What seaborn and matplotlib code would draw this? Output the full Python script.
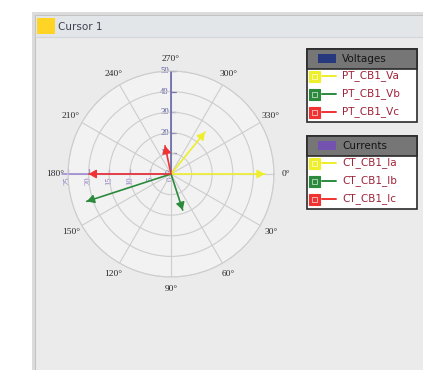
import numpy as np
import pandas as pd
import matplotlib
matplotlib.use("Agg")
import matplotlib.pyplot as plt
from matplotlib.patches import Rectangle, Circle
import seaborn as sns

# Phasor data (angles in degrees, measured clockwise from 0°)
voltage_names = ["PT_CB1_Va", "PT_CB1_Vb", "PT_CB1_Vc"]
current_names = ["CT_CB1_Ia", "CT_CB1_Ib", "CT_CB1_Ic"]
voltage_angles = [0, 162, 180]
voltage_mags = [45.5, 43.0, 40.0]
current_angles = [309, 72, 258]
current_mags = [13.1, 9.2, 7.0]
phase_colors = ["#eeee2c", "#2b8a3c", "#f03232"]

theta_ticks = list(range(0, 360, 30))
voltage_ticks = [0, 10, 20, 30, 40, 50]
current_ticks = [0, 5, 10, 15, 20, 25]
legend_groups = ["Voltages", "Currents"]
group_swatches = ["#27387f", "#7352b0"]

R_MAX = voltage_ticks[-1]
current_scale = R_MAX / current_ticks[-1]

sns.set_theme(style="white")
plt.rcParams["font.family"] = ["DejaVu Sans"]

W, H = 423, 370
fig = plt.figure(figsize=(W / 100, H / 100), dpi=100)
fig.patch.set_facecolor("white")

# Background layer in pixel coordinates
bg = fig.add_axes([0, 0, 1, 1], zorder=0)
bg.set_xlim(0, W)
bg.set_ylim(H, 0)
bg.axis("off")
bg.add_patch(Rectangle((32, 12), W, H, facecolor="#dcdcdc", edgecolor="none"))
bg.add_patch(Rectangle((35, 15), W, H, facecolor="#ebebeb", edgecolor="#c4c4c4", lw=0.8))
bg.add_patch(Rectangle((35.5, 15.5), W, 21.5, facecolor="#e3e6e9", edgecolor="none"))
bg.plot([35.5, W], [37, 37], color="#d2d6da", lw=0.8)
bg.add_patch(Rectangle((37, 18), 17.5, 16, facecolor="#ffd424", edgecolor="none"))
bg.text(58, 26.5, "Cursor 1", fontsize=7.5, color="#3c4250", va="center", ha="left")

# Legend boxes
def draw_legend(top, title, swatch, names):
    left, right = 307, 417
    bg.add_patch(Rectangle((left, top), right - left, 73, facecolor="white",
                           edgecolor="#2a2a2a", lw=1.2, zorder=2))
    bg.add_patch(Rectangle((left, top), right - left, 20, facecolor="#767676",
                           edgecolor="#2a2a2a", lw=1.2, zorder=3))
    bg.add_patch(Rectangle((318, top + 5), 18, 9, facecolor=swatch, edgecolor="none", zorder=4))
    bg.text(342, top + 10, title, fontsize=7.5, color="#151515", va="center", zorder=4)
    for i, (name, col) in enumerate(zip(names, phase_colors)):
        y = top + 27 + 18 * i
        bg.add_patch(Rectangle((309, y - 5.5), 11, 11, facecolor=col, edgecolor=col, lw=0.8, zorder=4))
        bg.add_patch(Rectangle((312, y - 2.5), 5, 5, facecolor="none", edgecolor="white",
                               lw=0.6, alpha=0.7, zorder=5))
        bg.plot([322, 336], [y, y], color=col, lw=1.4, zorder=4)
        bg.text(342, y, name, fontsize=7.5, color="#a0233a", va="center", zorder=4)

draw_legend(49, legend_groups[0], group_swatches[0], voltage_names)
draw_legend(136, legend_groups[1], group_swatches[1], current_names)

rect = [68 / W, 1 - 277 / H, 206 / W, 206 / H]

# Cartesian underlay: plot face, axis ticks and tick labels
ov = fig.add_axes(rect, zorder=1)
ov.set_xlim(-R_MAX, R_MAX)
ov.set_ylim(-R_MAX, R_MAX)
ov.axis("off")
ov.add_patch(Circle((0, 0), R_MAX, facecolor="#f2f2f2", edgecolor="none"))
for v in voltage_ticks[1:]:
    ov.plot([0, 2.6], [v, v], color="#5c5ca6", lw=0.9)
for v in voltage_ticks:
    ov.text(-1.0, v, str(v), fontsize=6.2, family="Liberation Serif", color="#50509a",
            ha="right", va="center")
for c in current_ticks[1:]:
    x = -c * current_scale
    ov.plot([x, x], [0, 2.6], color="#9a82d2", lw=0.9)
for c in current_ticks:
    x = -c * current_scale
    ov.text(x, -1.2, str(c), fontsize=6.2, family="Liberation Serif", color="#8a72c2",
            ha="center", va="top", rotation=90)

# Polar phasor plot
ax = fig.add_axes(rect, projection="polar", zorder=2)
ax.patch.set_alpha(0)
ax.set_theta_zero_location("E")
ax.set_theta_direction(-1)
ax.set_ylim(0, R_MAX)
ax.set_xticks(np.deg2rad(theta_ticks))
ax.set_xticklabels([])
ax.set_yticks(voltage_ticks[1:])
ax.set_yticklabels([])
ax.grid(True, color="#cdcdcd", lw=0.8)
ax.spines["polar"].set_color("#cdcdcd")
ax.spines["polar"].set_linewidth(0.8)

for a in theta_ticks:
    ax.text(np.deg2rad(a), 56, f"{a}°", fontsize=6.8, family="Liberation Serif",
            color="#2a2a2a", ha="center", va="center", clip_on=False)

# Voltage (vertical) and current (horizontal) reference axes
ax.plot([np.deg2rad(270)] * 2, [0, R_MAX], color="#5c5ca6", lw=1.1, zorder=2)
ax.plot([np.pi] * 2, [0, R_MAX * 1.06], color="#9a82d2", lw=1.1, zorder=2, clip_on=False)

# Phasor vectors
names = voltage_names + current_names
angles = voltage_angles + current_angles
radii = voltage_mags + [m * current_scale for m in current_mags]
colors = phase_colors + phase_colors
rows = []
for n, a, r in zip(names, angles, radii):
    rows.append({"name": n, "theta": np.deg2rad(a), "r": 0.0})
    rows.append({"name": n, "theta": np.deg2rad(a), "r": r})
df = pd.DataFrame(rows)
sns.lineplot(data=df, x="theta", y="r", hue="name", units="name", estimator=None,
             sort=False, palette=dict(zip(names, colors)), legend=False, lw=1.2,
             ax=ax, zorder=3)
ax.set_xlabel("")
ax.set_ylabel("")
for n, a, r, col in zip(names, angles, radii, colors):
    t = np.deg2rad(a)
    ax.annotate("", xy=(t, r), xytext=(t, r - 3),
                arrowprops=dict(arrowstyle="-|>,head_length=0.7,head_width=0.4",
                                color=col, lw=1.0, mutation_scale=6.5,
                                shrinkA=0, shrinkB=0), zorder=4)

fig.savefig("out.png", dpi=100)
